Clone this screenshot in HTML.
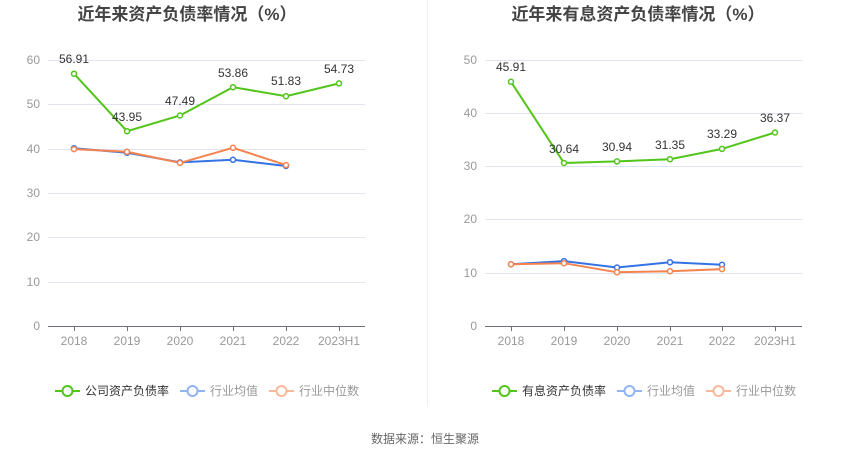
<!DOCTYPE html>
<html><head><meta charset="utf-8"><style>
html,body{margin:0;padding:0;background:#fff;}
svg{display:block;font-family:"Liberation Sans","Noto Sans CJK SC",sans-serif;}
</style></head><body>
<svg width="850" height="459" viewBox="0 0 850 459" xmlns="http://www.w3.org/2000/svg">
<line x1="427.5" y1="0" x2="427.5" y2="407" stroke="#eeeeee"/>
<g font-size="17" font-weight="bold" fill="#444" text-anchor="middle">
<text x="187" y="20">近年来资产负债率情况（%）</text>
<text x="638" y="20">近年来有息资产负债率情况（%）</text>
</g>
<!-- left grid -->
<g stroke="#e0e4f0" stroke-width="1">
<line x1="48" x2="365" y1="60.5" y2="60.5"/><line x1="48" x2="365" y1="104.5" y2="104.5"/>
<line x1="48" x2="365" y1="149.5" y2="149.5"/><line x1="48" x2="365" y1="193.5" y2="193.5"/>
<line x1="48" x2="365" y1="237.5" y2="237.5"/><line x1="48" x2="365" y1="282.5" y2="282.5"/>
<line x1="485" x2="802" y1="60.5" y2="60.5"/><line x1="485" x2="802" y1="113.5" y2="113.5"/>
<line x1="485" x2="802" y1="166.5" y2="166.5"/><line x1="485" x2="802" y1="219.5" y2="219.5"/>
<line x1="485" x2="802" y1="273.5" y2="273.5"/>
</g>
<g stroke="#6e7079" stroke-width="1">
<line x1="48" x2="365" y1="326.5" y2="326.5"/>
<line x1="485" x2="802" y1="326.5" y2="326.5"/>
<line x1="74.5" x2="74.5" y1="326" y2="331"/><line x1="127.5" x2="127.5" y1="326" y2="331"/><line x1="180.5" x2="180.5" y1="326" y2="331"/><line x1="233.5" x2="233.5" y1="326" y2="331"/><line x1="286.5" x2="286.5" y1="326" y2="331"/><line x1="339.5" x2="339.5" y1="326" y2="331"/>
<line x1="511.5" x2="511.5" y1="326" y2="331"/><line x1="564.5" x2="564.5" y1="326" y2="331"/><line x1="617.5" x2="617.5" y1="326" y2="331"/><line x1="670.5" x2="670.5" y1="326" y2="331"/><line x1="722.5" x2="722.5" y1="326" y2="331"/><line x1="775.5" x2="775.5" y1="326" y2="331"/>
</g>
<g font-size="12" fill="#999" text-anchor="end">
<text x="40" y="64">60</text><text x="40" y="108">50</text><text x="40" y="153">40</text><text x="40" y="197">30</text><text x="40" y="241">20</text><text x="40" y="286">10</text><text x="40" y="330">0</text>
<text x="477" y="64">50</text><text x="477" y="117">40</text><text x="477" y="170">30</text><text x="477" y="223">20</text><text x="477" y="277">10</text><text x="477" y="330">0</text>
</g>
<g font-size="12" fill="#999" text-anchor="middle">
<text x="74" y="345">2018</text><text x="127" y="345">2019</text><text x="180" y="345">2020</text><text x="233" y="345">2021</text><text x="286" y="345">2022</text><text x="339" y="345">2023H1</text>
<text x="511" y="345">2018</text><text x="564" y="345">2019</text><text x="617" y="345">2020</text><text x="670" y="345">2021</text><text x="722" y="345">2022</text><text x="775" y="345">2023H1</text>
</g>
<g fill="none" stroke-width="2">
<polyline stroke="#3373e4" points="74,148.2 127,152.7 180,162.4 233,159.8 286,166"/>
<polyline stroke="#f5834f" points="74,149.1 127,151.8 180,162.9 233,147.8 286,165.1"/>
<polyline stroke="#52c41a" points="74,73.7 127,131.2 180,115.5 233,87.2 286,96.2 339,83.4"/>
<polyline stroke="#3373e4" points="511,264.3 564,261.1 617,267.5 670,262.2 722,264.8"/>
<polyline stroke="#f5834f" points="511,264.3 564,263.2 617,272.3 670,271.2 722,269.1"/>
<polyline stroke="#52c41a" points="511,81.8 564,163 617,161.4 670,159.2 722,148.9 775,132.5"/>
</g>
<g fill="#fff" stroke-width="1.5">
<g stroke="#3373e4"><circle cx="74" cy="148.2" r="2.5"/><circle cx="127" cy="152.7" r="2.5"/><circle cx="180" cy="162.4" r="2.5"/><circle cx="233" cy="159.8" r="2.5"/><circle cx="286" cy="166" r="2.5"/>
<circle cx="511" cy="264.3" r="2.5"/><circle cx="564" cy="261.1" r="2.5"/><circle cx="617" cy="267.5" r="2.5"/><circle cx="670" cy="262.2" r="2.5"/><circle cx="722" cy="264.8" r="2.5"/></g>
<g stroke="#f5834f"><circle cx="74" cy="149.1" r="2.5"/><circle cx="127" cy="151.8" r="2.5"/><circle cx="180" cy="162.9" r="2.5"/><circle cx="233" cy="147.8" r="2.5"/><circle cx="286" cy="165.1" r="2.5"/>
<circle cx="511" cy="264.3" r="2.5"/><circle cx="564" cy="263.2" r="2.5"/><circle cx="617" cy="272.3" r="2.5"/><circle cx="670" cy="271.2" r="2.5"/><circle cx="722" cy="269.1" r="2.5"/></g>
<g stroke="#52c41a"><circle cx="74" cy="73.7" r="2.5"/><circle cx="127" cy="131.2" r="2.5"/><circle cx="180" cy="115.5" r="2.5"/><circle cx="233" cy="87.2" r="2.5"/><circle cx="286" cy="96.2" r="2.5"/><circle cx="339" cy="83.4" r="2.5"/>
<circle cx="511" cy="81.8" r="2.5"/><circle cx="564" cy="163" r="2.5"/><circle cx="617" cy="161.4" r="2.5"/><circle cx="670" cy="159.2" r="2.5"/><circle cx="722" cy="148.9" r="2.5"/><circle cx="775" cy="132.5" r="2.5"/></g>
</g>
<g font-size="12" fill="#333" text-anchor="middle">
<text x="74" y="63">56.91</text><text x="127" y="121">43.95</text><text x="180" y="105">47.49</text><text x="233" y="77">53.86</text><text x="286" y="85">51.83</text><text x="339" y="73">54.73</text>
<text x="511" y="71">45.91</text><text x="564" y="153">30.64</text><text x="617" y="151">30.94</text><text x="670" y="149">31.35</text><text x="722" y="138">33.29</text><text x="775" y="122">36.37</text>
</g>
<!-- legends -->
<g stroke-width="2" fill="#fff">
<line x1="55" x2="80" y1="391" y2="391" stroke="#52c41a"/><circle cx="67.5" cy="391" r="5" stroke="#52c41a"/>
<line x1="180" x2="205" y1="391" y2="391" stroke="#92b4f4"/><circle cx="192.5" cy="391" r="5" stroke="#92b4f4"/>
<line x1="269" x2="294" y1="391" y2="391" stroke="#fab89a"/><circle cx="281.5" cy="391" r="5" stroke="#fab89a"/>
<line x1="492" x2="517" y1="391" y2="391" stroke="#52c41a"/><circle cx="504.5" cy="391" r="5" stroke="#52c41a"/>
<line x1="617" x2="642" y1="391" y2="391" stroke="#92b4f4"/><circle cx="629.5" cy="391" r="5" stroke="#92b4f4"/>
<line x1="706" x2="731" y1="391" y2="391" stroke="#fab89a"/><circle cx="718.5" cy="391" r="5" stroke="#fab89a"/>
</g>
<g font-size="12">
<text x="85" y="395" fill="#333">公司资产负债率</text><text x="210" y="395" fill="#999">行业均值</text><text x="299" y="395" fill="#999">行业中位数</text>
<text x="522" y="395" fill="#333">有息资产负债率</text><text x="647" y="395" fill="#999">行业均值</text><text x="736" y="395" fill="#999">行业中位数</text>
</g>
<text x="425" y="443" font-size="12" fill="#666" text-anchor="middle">数据来源：恒生聚源</text>
</svg>
</body></html>
